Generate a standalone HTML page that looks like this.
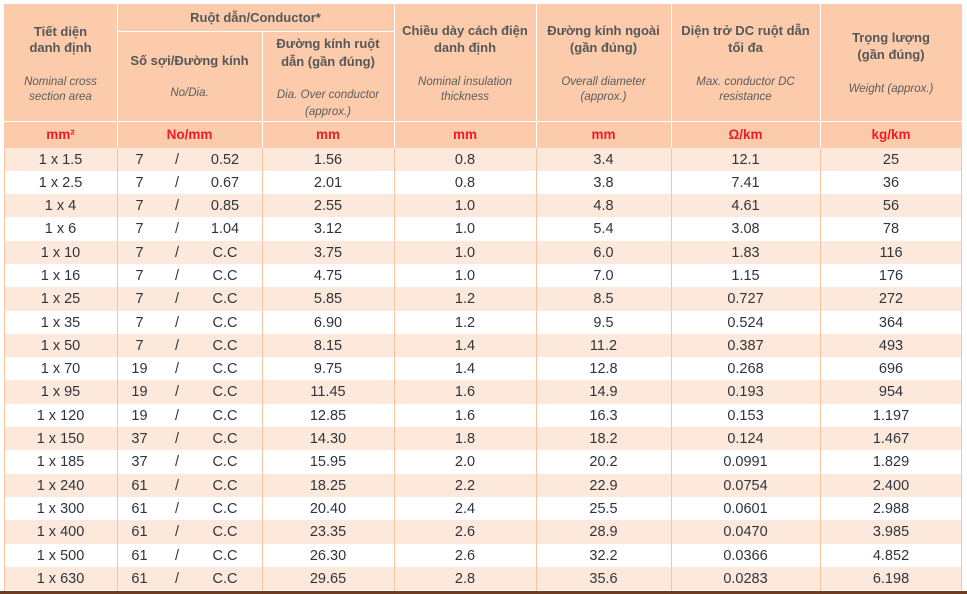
<!DOCTYPE html>
<html>
<head>
<meta charset="utf-8">
<style>
  html,body{margin:0;padding:0;background:#fff;}
  body{width:967px;height:593px;position:relative;overflow:hidden;font-family:"Liberation Sans","DejaVu Sans",sans-serif;}
  .hdr{position:absolute;left:4px;top:4px;width:958px;height:144px;background:#FBCBAB;}
  .vw{position:absolute;width:1px;background:#fff;}
  .hw{position:absolute;height:1px;background:#fff;}
  .t{position:absolute;text-align:center;height:16px;line-height:16px;white-space:nowrap;}
  .b{font-weight:bold;font-size:13px;color:#575757;}
  .i{font-style:italic;font-size:11.5px;color:#5c5c5c;}
  .u{font-weight:bold;font-size:13.5px;color:#EE1C25;top:127px;}
  .rows{position:absolute;left:4px;top:147.5px;width:958px;}
  .r{position:relative;height:23.3px;width:958px;}
  .r.o{background:#FDE9DC;}
  .r span{position:absolute;top:1px;height:23.3px;line-height:23.3px;text-align:center;font-size:14.5px;color:#30343a;white-space:nowrap;}
  .c1{left:0;width:113px;}
  .c2a{left:120px;width:31px;}
  .c2b{left:163px;width:20px;}
  .c2c{left:196px;width:50px;}
  .c3{left:258px;width:132px;}
  .c4{left:390px;width:142px;}
  .c5{left:532px;width:135px;}
  .c6{left:667px;width:149px;}
  .c7{left:816px;width:142px;}
  .vp{position:absolute;width:1px;top:147.5px;height:443px;background:#F8C4A2;}
  .brown{position:absolute;left:0;top:590.5px;width:967px;height:3px;background:#6E3C22;}
</style>
</head>
<body>
<div class="hdr"></div>
<div class="vw" style="left:117px;top:4px;height:144px;"></div>
<div class="vw" style="left:262px;top:31px;height:117px;"></div>
<div class="vw" style="left:394px;top:4px;height:144px;"></div>
<div class="vw" style="left:536px;top:4px;height:144px;"></div>
<div class="vw" style="left:671px;top:4px;height:144px;"></div>
<div class="vw" style="left:820px;top:4px;height:144px;"></div>
<div class="hw" style="left:117px;top:31px;width:277px;"></div>
<div class="hw" style="left:4px;top:121px;width:958px;"></div>

<div class="t b" style="left:4px;width:113px;top:24px;">Tiết diện</div>
<div class="t b" style="left:4px;width:113px;top:40px;">danh định</div>
<div class="t i" style="left:4px;width:113px;top:74px;">Nominal cross</div>
<div class="t i" style="left:4px;width:113px;top:89px;">section area</div>

<div class="t b" style="left:117px;width:277px;top:10px;">Ruột dẫn/Conductor*</div>
<div class="t b" style="left:117px;width:145px;top:53px;">Số sợi/Đường kính</div>
<div class="t i" style="left:117px;width:145px;top:85px;">No/Dia.</div>
<div class="t b" style="left:262px;width:132px;top:36px;">Đường kính ruột</div>
<div class="t b" style="left:262px;width:132px;top:54px;">dẫn (gần đúng)</div>
<div class="t i" style="left:262px;width:132px;top:87px;">Dia. Over conductor</div>
<div class="t i" style="left:262px;width:132px;top:104px;">(approx.)</div>

<div class="t b" style="left:394px;width:142px;top:23px;">Chiều dày cách điện</div>
<div class="t b" style="left:394px;width:142px;top:40px;">danh định</div>
<div class="t i" style="left:394px;width:142px;top:74px;">Nominal insulation</div>
<div class="t i" style="left:394px;width:142px;top:89px;">thickness</div>

<div class="t b" style="left:536px;width:135px;top:23px;">Đường kính ngoài</div>
<div class="t b" style="left:536px;width:135px;top:40px;">(gần đúng)</div>
<div class="t i" style="left:536px;width:135px;top:74px;">Overall diameter</div>
<div class="t i" style="left:536px;width:135px;top:89px;">(approx.)</div>

<div class="t b" style="left:671px;width:149px;top:23px;">Diện trở DC ruột dẫn</div>
<div class="t b" style="left:671px;width:149px;top:40px;">tối đa</div>
<div class="t i" style="left:671px;width:149px;top:74px;">Max. conductor DC</div>
<div class="t i" style="left:671px;width:149px;top:89px;">resistance</div>

<div class="t b" style="left:820px;width:142px;top:30px;">Trọng lượng</div>
<div class="t b" style="left:820px;width:142px;top:47px;">(gần đúng)</div>
<div class="t i" style="left:820px;width:142px;top:81px;">Weight (approx.)</div>

<div class="t u" style="left:4px;width:113px;">mm²</div>
<div class="t u" style="left:117px;width:145px;">No/mm</div>
<div class="t u" style="left:262px;width:132px;">mm</div>
<div class="t u" style="left:394px;width:142px;">mm</div>
<div class="t u" style="left:536px;width:135px;">mm</div>
<div class="t u" style="left:671px;width:149px;">Ω/km</div>
<div class="t u" style="left:820px;width:142px;">kg/km</div>

<div class="rows">
<div class="r o"><span class="c1">1 x 1.5</span><span class="c2a">7</span><span class="c2b">/</span><span class="c2c">0.52</span><span class="c3">1.56</span><span class="c4">0.8</span><span class="c5">3.4</span><span class="c6">12.1</span><span class="c7">25</span></div>
<div class="r"><span class="c1">1 x 2.5</span><span class="c2a">7</span><span class="c2b">/</span><span class="c2c">0.67</span><span class="c3">2.01</span><span class="c4">0.8</span><span class="c5">3.8</span><span class="c6">7.41</span><span class="c7">36</span></div>
<div class="r o"><span class="c1">1 x 4</span><span class="c2a">7</span><span class="c2b">/</span><span class="c2c">0.85</span><span class="c3">2.55</span><span class="c4">1.0</span><span class="c5">4.8</span><span class="c6">4.61</span><span class="c7">56</span></div>
<div class="r"><span class="c1">1 x 6</span><span class="c2a">7</span><span class="c2b">/</span><span class="c2c">1.04</span><span class="c3">3.12</span><span class="c4">1.0</span><span class="c5">5.4</span><span class="c6">3.08</span><span class="c7">78</span></div>
<div class="r o"><span class="c1">1 x 10</span><span class="c2a">7</span><span class="c2b">/</span><span class="c2c">C.C</span><span class="c3">3.75</span><span class="c4">1.0</span><span class="c5">6.0</span><span class="c6">1.83</span><span class="c7">116</span></div>
<div class="r"><span class="c1">1 x 16</span><span class="c2a">7</span><span class="c2b">/</span><span class="c2c">C.C</span><span class="c3">4.75</span><span class="c4">1.0</span><span class="c5">7.0</span><span class="c6">1.15</span><span class="c7">176</span></div>
<div class="r o"><span class="c1">1 x 25</span><span class="c2a">7</span><span class="c2b">/</span><span class="c2c">C.C</span><span class="c3">5.85</span><span class="c4">1.2</span><span class="c5">8.5</span><span class="c6">0.727</span><span class="c7">272</span></div>
<div class="r"><span class="c1">1 x 35</span><span class="c2a">7</span><span class="c2b">/</span><span class="c2c">C.C</span><span class="c3">6.90</span><span class="c4">1.2</span><span class="c5">9.5</span><span class="c6">0.524</span><span class="c7">364</span></div>
<div class="r o"><span class="c1">1 x 50</span><span class="c2a">7</span><span class="c2b">/</span><span class="c2c">C.C</span><span class="c3">8.15</span><span class="c4">1.4</span><span class="c5">11.2</span><span class="c6">0.387</span><span class="c7">493</span></div>
<div class="r"><span class="c1">1 x 70</span><span class="c2a">19</span><span class="c2b">/</span><span class="c2c">C.C</span><span class="c3">9.75</span><span class="c4">1.4</span><span class="c5">12.8</span><span class="c6">0.268</span><span class="c7">696</span></div>
<div class="r o"><span class="c1">1 x 95</span><span class="c2a">19</span><span class="c2b">/</span><span class="c2c">C.C</span><span class="c3">11.45</span><span class="c4">1.6</span><span class="c5">14.9</span><span class="c6">0.193</span><span class="c7">954</span></div>
<div class="r"><span class="c1">1 x 120</span><span class="c2a">19</span><span class="c2b">/</span><span class="c2c">C.C</span><span class="c3">12.85</span><span class="c4">1.6</span><span class="c5">16.3</span><span class="c6">0.153</span><span class="c7">1.197</span></div>
<div class="r o"><span class="c1">1 x 150</span><span class="c2a">37</span><span class="c2b">/</span><span class="c2c">C.C</span><span class="c3">14.30</span><span class="c4">1.8</span><span class="c5">18.2</span><span class="c6">0.124</span><span class="c7">1.467</span></div>
<div class="r"><span class="c1">1 x 185</span><span class="c2a">37</span><span class="c2b">/</span><span class="c2c">C.C</span><span class="c3">15.95</span><span class="c4">2.0</span><span class="c5">20.2</span><span class="c6">0.0991</span><span class="c7">1.829</span></div>
<div class="r o"><span class="c1">1 x 240</span><span class="c2a">61</span><span class="c2b">/</span><span class="c2c">C.C</span><span class="c3">18.25</span><span class="c4">2.2</span><span class="c5">22.9</span><span class="c6">0.0754</span><span class="c7">2.400</span></div>
<div class="r"><span class="c1">1 x 300</span><span class="c2a">61</span><span class="c2b">/</span><span class="c2c">C.C</span><span class="c3">20.40</span><span class="c4">2.4</span><span class="c5">25.5</span><span class="c6">0.0601</span><span class="c7">2.988</span></div>
<div class="r o"><span class="c1">1 x 400</span><span class="c2a">61</span><span class="c2b">/</span><span class="c2c">C.C</span><span class="c3">23.35</span><span class="c4">2.6</span><span class="c5">28.9</span><span class="c6">0.0470</span><span class="c7">3.985</span></div>
<div class="r"><span class="c1">1 x 500</span><span class="c2a">61</span><span class="c2b">/</span><span class="c2c">C.C</span><span class="c3">26.30</span><span class="c4">2.6</span><span class="c5">32.2</span><span class="c6">0.0366</span><span class="c7">4.852</span></div>
<div class="r o"><span class="c1">1 x 630</span><span class="c2a">61</span><span class="c2b">/</span><span class="c2c">C.C</span><span class="c3">29.65</span><span class="c4">2.8</span><span class="c5">35.6</span><span class="c6">0.0283</span><span class="c7">6.198</span></div>
</div>

<div class="vp" style="left:4px;"></div>
<div class="vp" style="left:117px;"></div>
<div class="vp" style="left:262px;"></div>
<div class="vp" style="left:394px;"></div>
<div class="vp" style="left:536px;"></div>
<div class="vp" style="left:671px;"></div>
<div class="vp" style="left:820px;"></div>
<div class="vp" style="left:961px;"></div>

<div class="brown"></div>
</body>
</html>
